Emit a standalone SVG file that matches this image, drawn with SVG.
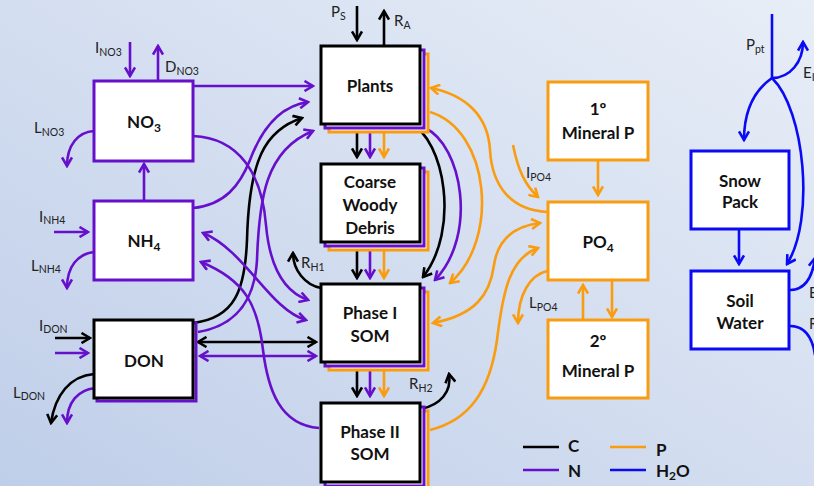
<svg xmlns="http://www.w3.org/2000/svg" width="814" height="486" viewBox="0 0 814 486">
<defs>
<linearGradient id="bg" x1="1" y1="0" x2="0" y2="1">
<stop offset="0" stop-color="#e8eef7"/>
<stop offset="1" stop-color="#bfcee9"/>
</linearGradient>
<marker id="aK" viewBox="0 0 12 12" refX="10" refY="6" markerWidth="12" markerHeight="12" markerUnits="userSpaceOnUse" orient="auto-start-reverse"><path d="M1.5,1 L10,6 L1.5,11" fill="none" stroke="#000" stroke-width="2.6"/></marker>
<marker id="aN" viewBox="0 0 12 12" refX="10" refY="6" markerWidth="12" markerHeight="12" markerUnits="userSpaceOnUse" orient="auto-start-reverse"><path d="M1.5,1 L10,6 L1.5,11" fill="none" stroke="#6610cc" stroke-width="2.6"/></marker>
<marker id="aP" viewBox="0 0 12 12" refX="10" refY="6" markerWidth="12" markerHeight="12" markerUnits="userSpaceOnUse" orient="auto-start-reverse"><path d="M1.5,1 L10,6 L1.5,11" fill="none" stroke="#fa9c10" stroke-width="2.6"/></marker>
<marker id="aW" viewBox="0 0 12 12" refX="10" refY="6" markerWidth="12" markerHeight="12" markerUnits="userSpaceOnUse" orient="auto-start-reverse"><path d="M1.5,1 L10,6 L1.5,11" fill="none" stroke="#0a0af5" stroke-width="2.6"/></marker>
<style>
.k{fill:none;stroke:#000;stroke-width:2.6}
.n{fill:none;stroke:#6610cc;stroke-width:2.6}
.p{fill:none;stroke:#fa9c10;stroke-width:2.6}
.w{fill:none;stroke:#0a0af5;stroke-width:2.6}
.ek{marker-end:url(#aK)}
.en{marker-end:url(#aN)}
.ep{marker-end:url(#aP)}
.ew{marker-end:url(#aW)}
.sk{marker-start:url(#aK)}
.sn{marker-start:url(#aN)}
.sp{marker-start:url(#aP)}
.bk{fill:#fff;stroke:#000;stroke-width:3}
.bn{fill:#fff;stroke:#6610cc;stroke-width:3}
.bp{fill:#fff;stroke:#fa9c10;stroke-width:3}
.bw{fill:#fff;stroke:#0a0af5;stroke-width:3}
.t{font-family:Lato,"Liberation Sans",sans-serif;font-weight:bold;font-size:17px;fill:#111;text-anchor:middle}
.l{font-family:Lato,"Liberation Sans",sans-serif;font-size:15px;fill:#222}
.s{font-size:10.5px}
.ts{font-size:12px}
.g{font-family:Lato,"Liberation Sans",sans-serif;font-weight:bold;font-size:17px;fill:#111}
</style>
</defs>
<rect width="814" height="486" fill="url(#bg)"/>

<g id="connectors">
<!-- carbon -->
<path class="k ek" d="M357,6 V40"/>
<path class="k ek" d="M384,46 V11"/>
<path class="k ek" d="M357,124 V157"/>
<path class="k ek" d="M357,242 V278"/>
<path class="k ek" d="M357,362 V396"/>
<path class="k ek" d="M410,123 C445,140 460,230 423,277"/>
<path class="k ek" d="M321,288 C305,285 293,270 293,253"/>
<path class="k ek" d="M421,409 C440,405 452,392 449,374"/>
<path class="k ek" d="M193,323 C235,318 245,290 247,240 C249,160 265,130 302,118"/>
<path class="k ek sk" d="M198,342 H316"/>
<path class="k ek" d="M55,338 H90"/>
<path class="k ek" d="M94,374 C70,376 55,395 51,423"/>
<!-- nitrogen -->
<path class="n en" d="M130,42 V76"/>
<path class="n en" d="M158,81 V46"/>
<path class="n en" d="M94,131 C78,132 67,145 67,166"/>
<path class="n en" d="M144,201 V164"/>
<path class="n en" d="M54,232 H88"/>
<path class="n en" d="M94,252 C78,254 67,266 67,288"/>
<path class="n en" d="M55,353 H88"/>
<path class="n en" d="M95,388 C78,390 67,402 67,423"/>
<path class="n en" d="M193,86 H313"/>
<path class="n en" d="M193,208 C225,205 240,185 250,160 C262,128 280,106 308,102"/>
<path class="n en" d="M198,332 C240,325 255,295 257,260 C259,200 265,150 313,131"/>
<path class="n en" d="M193,136 C240,138 262,175 266,225 C270,270 285,292 308,300"/>
<path class="n en sn" d="M203,233 C245,250 270,310 306,320"/>
<path class="n en" d="M319,428 C280,425 268,390 263,350 C258,305 245,280 201,262"/>
<path class="n en sn" d="M200,356 H316"/>
<path class="n en" d="M370,127 V157"/>
<path class="n en" d="M370,246 V278"/>
<path class="n en" d="M370,366 V396"/>
<path class="n en" d="M425,128 C462,145 478,235 435,280"/>
<!-- phosphorus -->
<path class="p ep" d="M384,131 V157"/>
<path class="p ep" d="M384,250 V278"/>
<path class="p ep" d="M384,370 V396"/>
<path class="p ep" d="M430,112 C490,130 500,240 450,283"/>
<path class="p ep" d="M547,212 C510,210 492,185 490,150 C488,115 465,95 431,88"/>
<path class="p ep sp" d="M433,323 C475,315 490,295 494,265 C498,238 515,226 540,223"/>
<path class="p ep" d="M430,430 C470,420 490,390 497,340 C503,290 510,258 538,248"/>
<path class="p ep" d="M513,145 C518,170 525,185 538,197"/>
<path class="p ep" d="M547,271 C530,275 518,295 518,323"/>
<path class="p ep" d="M598,160 V195"/>
<path class="p ep" d="M583,320 V285"/>
<path class="p ep" d="M612,280 V317"/>
<!-- water -->
<path class="w" d="M772,14 V78"/>
<path class="w ew" d="M772,78 C755,90 744,110 744,140"/>
<path class="w ew" d="M772,78 C790,78 803,62 803,42"/>
<path class="w ew" d="M772,78 C805,110 815,220 787,264"/>
<path class="w ew" d="M739,229 V264"/>
<path class="w ew" d="M790,290 C803,290 812,280 815,258"/>
<path class="w" d="M790,326 C803,326 812,335 815,355"/>
</g>

<g id="node-no3">
<rect class="bn" x="94" y="81" width="99" height="80"/>
<text class="t" x="144" y="128">NO<tspan class="ts" dy="4">3</tspan></text>
</g>
<g id="node-nh4">
<rect class="bn" x="94" y="201" width="99" height="79"/>
<text class="t" x="144" y="247">NH<tspan class="ts" dy="4">4</tspan></text>
</g>
<g id="node-don">
<rect class="bn" x="97" y="323" width="99" height="78"/>
<rect class="bk" x="94" y="320" width="99" height="78"/>
<text class="t" x="144" y="367">DON</text>
</g>
<g id="node-plants">
<rect class="bp" x="329" y="54" width="99" height="78"/>
<rect class="bn" x="325" y="50" width="99" height="78"/>
<rect class="bk" x="321" y="46" width="99" height="78"/>
<text class="t" x="370" y="92">Plants</text>
</g>
<g id="node-cwd">
<rect class="bp" x="329" y="172" width="99" height="78"/>
<rect class="bn" x="325" y="168" width="99" height="78"/>
<rect class="bk" x="321" y="164" width="99" height="78"/>
<text class="t" x="370" y="188">Coarse</text>
<text class="t" x="370" y="211">Woody</text>
<text class="t" x="370" y="234">Debris</text>
</g>
<g id="node-phase1">
<rect class="bp" x="329" y="292" width="99" height="78"/>
<rect class="bn" x="325" y="288" width="99" height="78"/>
<rect class="bk" x="321" y="284" width="99" height="78"/>
<text class="t" x="370" y="319">Phase I</text>
<text class="t" x="370" y="342">SOM</text>
</g>
<g id="node-phase2">
<rect class="bp" x="329" y="411" width="99" height="79"/>
<rect class="bn" x="325" y="407" width="99" height="79"/>
<rect class="bk" x="321" y="403" width="99" height="79"/>
<text class="t" x="370" y="438">Phase II</text>
<text class="t" x="370" y="460">SOM</text>
</g>
<g id="node-mineral1">
<rect class="bp" x="548" y="82" width="100" height="78"/>
<text class="t" x="598" y="115">1º</text>
<text class="t" x="598" y="139">Mineral P</text>
</g>
<g id="node-po4">
<rect class="bp" x="548" y="202" width="100" height="78"/>
<text class="t" x="598" y="248">PO<tspan class="ts" dy="4">4</tspan></text>
</g>
<g id="node-mineral2">
<rect class="bp" x="548" y="320" width="100" height="78"/>
<text class="t" x="598" y="347">2º</text>
<text class="t" x="598" y="377">Mineral P</text>
</g>
<g id="node-snow">
<rect class="bw" x="691" y="151" width="98" height="78"/>
<text class="t" x="740" y="187">Snow</text>
<text class="t" x="740" y="208">Pack</text>
</g>
<g id="node-soil">
<rect class="bw" x="691" y="271" width="98" height="78"/>
<text class="t" x="740" y="307">Soil</text>
<text class="t" x="740" y="329">Water</text>
</g>

<g id="labels">
<text class="l" x="95" y="53">I<tspan class="s" dy="3">NO3</tspan></text>
<text class="l" x="165" y="72">D<tspan class="s" dy="3">NO3</tspan></text>
<text class="l" x="34" y="133">L<tspan class="s" dy="3">NO3</tspan></text>
<text class="l" x="39" y="222">I<tspan class="s" dy="2">NH4</tspan></text>
<text class="l" x="31" y="271">L<tspan class="s" dy="2">NH4</tspan></text>
<text class="l" x="39" y="331">I<tspan class="s" dy="2">DON</tspan></text>
<text class="l" x="13" y="398">L<tspan class="s" dy="2">DON</tspan></text>
<text class="l" x="331" y="17">P<tspan class="s" dy="3">S</tspan></text>
<text class="l" x="394" y="26">R<tspan class="s" dy="3">A</tspan></text>
<text class="l" x="301" y="268">R<tspan class="s" dy="3">H1</tspan></text>
<text class="l" x="409" y="389">R<tspan class="s" dy="3">H2</tspan></text>
<text class="l" x="526" y="178">I<tspan class="s" dy="3">PO4</tspan></text>
<text class="l" x="529" y="308">L<tspan class="s" dy="3">PO4</tspan></text>
<text class="l" x="746" y="50">P<tspan class="s" dy="3">pt</tspan></text>
<text class="l" x="803" y="78">E<tspan class="s" dy="3">I</tspan></text>
<text class="l" x="809" y="298">E</text>
<text class="l" x="809" y="329">R</text>
</g>

<g id="legend">
<line class="k" x1="523" y1="447" x2="559" y2="447"/>
<line class="n" x1="523" y1="470" x2="559" y2="470"/>
<line class="p" x1="610" y1="447" x2="646" y2="447"/>
<line class="w" x1="610" y1="470" x2="646" y2="470"/>
<text class="g" x="568" y="452">C</text>
<text class="g" x="568" y="477">N</text>
<text class="g" x="656" y="456">P</text>
<text class="g" x="656" y="477">H<tspan class="ts" dy="3">2</tspan><tspan dy="-3">O</tspan></text>
</g>
</svg>
